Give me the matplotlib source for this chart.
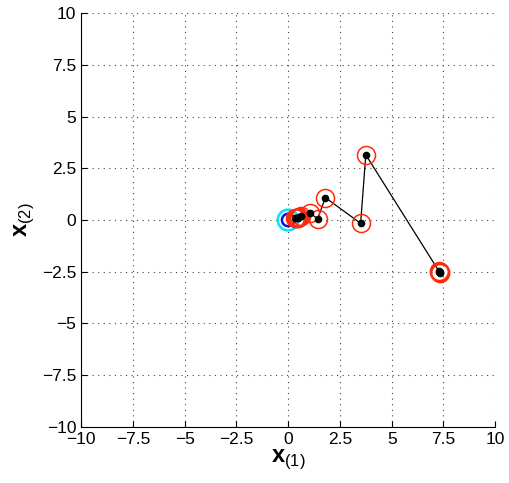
import numpy as np
import matplotlib
matplotlib.use("Agg")
import matplotlib.pyplot as plt

plt.rcParams['font.family'] = ['Liberation Sans', 'DejaVu Sans']
plt.rcParams['mathtext.fontset'] = 'custom'
plt.rcParams['mathtext.rm'] = 'Liberation Sans'
plt.rcParams['mathtext.bf'] = 'Liberation Sans:bold'

# Iterates of the path (start at lower right, converging to origin)
path_x = [7.35, 7.30, 7.28, 7.33, 3.75, 3.50, 1.80, 1.42, 1.06, 0.62, 0.53, 0.47, 0.42, 0.38, 0.35]
path_y = [-2.50, -2.46, -2.53, -2.55, 3.15, -0.16, 1.08, 0.06, 0.34, 0.18, 0.14, 0.12, 0.11, 0.10, 0.10]

# Contour levels of f = x1^2 + x2^2 near the optimum
levels = [0.09, 0.25]
level_colors = ["#1010e0", "#00e5ff"]

ticks = [-10, -7.5, -5, -2.5, 0, 2.5, 5, 7.5, 10]
tick_labels = ["\u221210", "\u22127.5", "\u22125", "\u22122.5", "0", "2.5", "5", "7.5", "10"]

fig = plt.figure(figsize=(5.10, 4.83), dpi=100)
ax = fig.add_axes([0.159, 0.116, 0.812, 0.857])

# Contours
g = np.linspace(-1, 1, 301)
X1, X2 = np.meshgrid(g, g)
F = X1**2 + X2**2
ax.contour(X1, X2, F, levels=levels, colors=level_colors, linewidths=1.8)

# Path
ax.plot(path_x, path_y, color="k", lw=0.9, zorder=3)
ax.plot(path_x, path_y, "o", ms=13, mfc="none", mec="#ff2a0a", mew=1.1, zorder=4)
ax.plot(path_x, path_y, "o", ms=4.5, color="k", zorder=5)

ax.set_xlim(-10, 10)
ax.set_ylim(-10, 10)
ax.set_xticks(ticks)
ax.set_yticks(ticks)
ax.set_xticklabels(tick_labels, fontsize=12.5)
ax.set_yticklabels(tick_labels, fontsize=12.5)
ax.tick_params(direction="in", length=4, width=0.8)
ax.grid(True, linestyle=(0, (1, 4)), color="#444444", linewidth=0.8)
ax.spines["top"].set_visible(False)
ax.spines["right"].set_visible(False)
ax.set_xlabel(r"$\mathbf{x}_{\mathrm{(1)}}$", fontsize=17, labelpad=0)
ax.set_ylabel(r"$\mathbf{x}_{\mathrm{(2)}}$", fontsize=17, labelpad=4)

plt.savefig("out.png", dpi=100)
